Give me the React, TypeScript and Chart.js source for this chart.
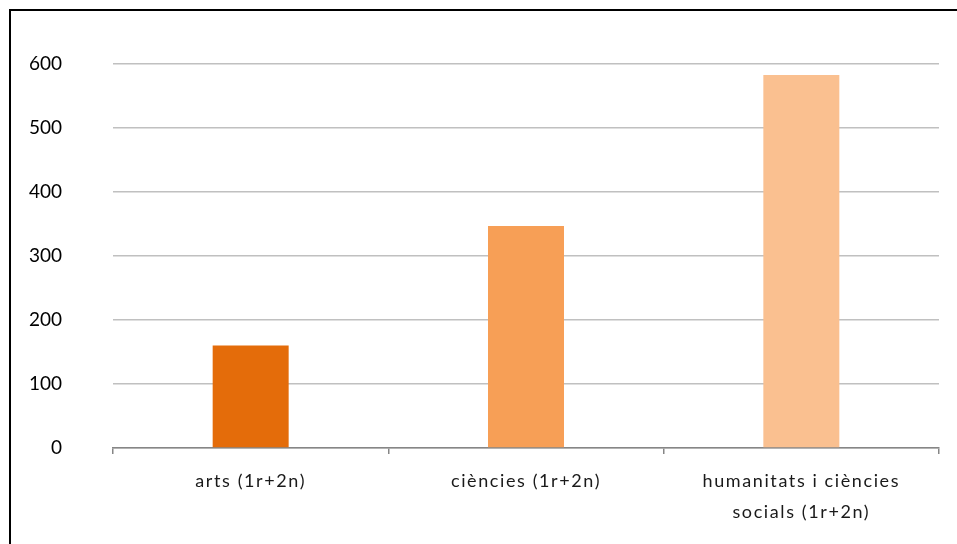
import React, { useEffect, useRef } from "react";
import { Chart, registerables } from "chart.js";

Chart.register(...registerables);

const categories: (string | string[])[] = [
  "arts (1r+2n)",
  "ciències (1r+2n)",
  ["humanitats i ciències", "socials (1r+2n)"],
];
const values = [160, 347, 583];
const barColors = ["#E46C0A", "#F79F56", "#FAC090"];
const yMin = 0;
const yMax = 600;
const yStep = 100;

const spacingPlugin = {
  id: "xLetterSpacing",
  beforeDraw(chart: any) {
    const sc = chart.scales.x;
    if (sc && !sc.__patched) {
      const orig = sc.drawLabels;
      sc.drawLabels = function (area: any) {
        const ctx = chart.ctx;
        ctx.save();
        (ctx as any).letterSpacing = "1.6px";
        orig.call(this, area);
        ctx.restore();
      };
      sc.__patched = true;
    }
  },
};

export default function App() {
  const ref = useRef<HTMLCanvasElement | null>(null);
  useEffect(() => {
    if (!ref.current) return;
    const chart = new Chart(ref.current, {
      type: "bar",
      data: {
        labels: categories,
        datasets: [
          {
            data: values,
            backgroundColor: barColors,
            borderWidth: 0,
            barPercentage: 0.276,
            categoryPercentage: 1,
          },
        ],
      },
      plugins: [spacingPlugin],
      options: {
        animation: false,
        responsive: false,
        maintainAspectRatio: false,
        layout: { padding: { top: 64, right: 18, bottom: 0, left: 0 } },
        plugins: { legend: { display: false }, tooltip: { enabled: false } },
        scales: {
          x: {
            grid: {
              display: true,
              offset: true,
              drawOnChartArea: false,
              drawTicks: true,
              tickLength: 6,
              color: "#868686",
              lineWidth: 1.5,
            },
            border: { display: true, color: "#868686", width: 1.5 },
            ticks: {
              color: "#1a1a1a",
              font: { family: "Lato, 'Open Sans', sans-serif", size: 18, lineHeight: 1.72 },
              padding: 12,
              maxRotation: 0,
              autoSkip: false,
            },
            afterFit: (s: any) => {
              s.height = 96;
            },
          },
          y: {
            min: yMin,
            max: yMax,
            grid: { color: "#c0c0c0", lineWidth: 1.5, drawTicks: false },
            border: { display: false },
            ticks: {
              stepSize: yStep,
              color: "#000",
              font: { family: "Lato, 'Open Sans', sans-serif", size: 19 },
              padding: 51,
            },
            afterFit: (s: any) => {
              s.width = 113;
            },
          },
        },
      },
    });
    return () => chart.destroy();
  }, []);
  return (
    <div style={{ position: "fixed", left: 0, top: 0, width: 957, height: 544, background: "#fff", overflow: "hidden" }}>
      <div
        style={{
          position: "absolute",
          left: 9,
          top: 9,
          width: 1000,
          height: 600,
          borderLeft: "2px solid #000",
          borderTop: "2px solid #000",
        }}
      />
      <canvas ref={ref} width={957} height={544} style={{ position: "absolute", left: 0, top: 0, width: 957, height: 544 }} />
    </div>
  );
}
